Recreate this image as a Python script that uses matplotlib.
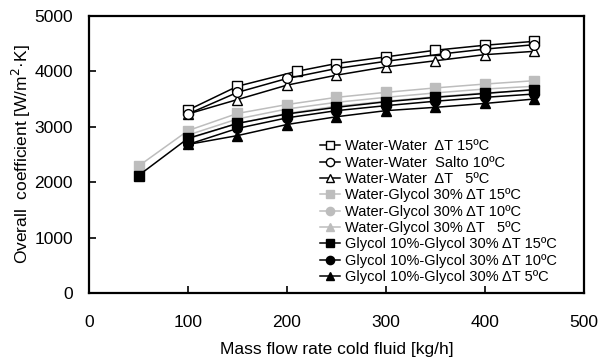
import matplotlib
matplotlib.use("Agg")
import matplotlib.pyplot as plt

plt.rcParams["font.family"] = ["Liberation Sans", "DejaVu Sans"]

# water-water series
ww_x15 = [100, 150, 210, 250, 300, 350, 400, 450]
ww_y15 = [3300, 3730, 4000, 4140, 4260, 4380, 4470, 4540]
ww_x10 = [100, 150, 200, 250, 300, 360, 400, 450]
ww_y10 = [3230, 3620, 3870, 4050, 4180, 4320, 4400, 4480]
ww_x5 = [100, 150, 200, 250, 300, 350, 400, 450]
ww_y5 = [3230, 3490, 3750, 3930, 4080, 4190, 4300, 4360]

# water-glycol series
wg_x15 = [50, 100, 150, 200, 250, 300, 350, 400, 450]
wg_y15 = [2290, 2930, 3240, 3400, 3530, 3620, 3700, 3770, 3830]
wg_x = [100, 150, 200, 250, 300, 350, 400, 450]
wg_y10 = [2850, 3140, 3320, 3440, 3530, 3610, 3680, 3730]
wg_y5 = [2780, 3060, 3240, 3370, 3460, 3540, 3610, 3660]

# glycol-glycol series
gg_x15 = [50, 100, 150, 200, 250, 300, 350, 400, 450]
gg_y15 = [2120, 2790, 3060, 3230, 3350, 3450, 3530, 3600, 3670]
gg_x = [100, 150, 200, 250, 300, 350, 400, 450]
gg_y10 = [2680, 2970, 3160, 3290, 3380, 3460, 3530, 3590]
gg_y5 = [2680, 2840, 3040, 3180, 3290, 3350, 3420, 3500]

labels = [
    "Water-Water  ΔT 15ºC",
    "Water-Water  Salto 10ºC",
    "Water-Water  ΔT   5ºC",
    "Water-Glycol 30% ΔT 15ºC",
    "Water-Glycol 30% ΔT 10ºC",
    "Water-Glycol 30% ΔT   5ºC",
    "Glycol 10%-Glycol 30% ΔT 15ºC",
    "Glycol 10%-Glycol 30% ΔT 10ºC",
    "Glycol 10%-Glycol 30% ΔT 5ºC",
]

fig = plt.figure(figsize=(6.14, 3.6), dpi=100)
ax = fig.add_axes([0.145, 0.186, 0.806, 0.770])

gray = "#bdbdbd"
ms = 7

# open markers
ax.plot(ww_x15, ww_y15, "-s", color="black", mfc="white", mec="black", ms=ms, lw=1.1, label=labels[0], zorder=5)
ax.plot(ww_x10, ww_y10, "-o", color="black", mfc="white", mec="black", ms=ms, lw=1.1, label=labels[1], zorder=5)
ax.plot(ww_x5, ww_y5, "-^", color="black", mfc="white", mec="black", ms=ms, lw=1.1, label=labels[2], zorder=4.9)

# gray markers
ax.plot(wg_x15, wg_y15, "-s", color=gray, ms=ms, lw=1.1, label=labels[3], zorder=2)
ax.plot(wg_x, wg_y10, "-o", color=gray, ms=ms, lw=1.1, label=labels[4], zorder=2)
ax.plot(wg_x, wg_y5, "-^", color=gray, ms=ms, lw=1.1, label=labels[5], zorder=2)

# black markers
ax.plot(gg_x15, gg_y15, "-s", color="black", ms=ms, lw=1.1, label=labels[6], zorder=3)
ax.plot(gg_x, gg_y10, "-o", color="black", ms=ms, lw=1.1, label=labels[7], zorder=3)
ax.plot(gg_x, gg_y5, "-^", color="black", ms=ms, lw=1.1, label=labels[8], zorder=2.9)

ax.set_xlim(0, 500)
ax.set_ylim(0, 5000)
ax.set_xticks([0, 100, 200, 300, 400, 500])
ax.set_yticks([0, 1000, 2000, 3000, 4000, 5000])
ax.tick_params(direction="in", length=5, width=1.2, labelsize=12.5)
ax.tick_params(axis="x", pad=15.5)
ax.tick_params(axis="y", pad=11.5)
for s in ax.spines.values():
    s.set_linewidth(1.6)

ax.set_xlabel("Mass flow rate cold fluid [kg/h]", fontsize=12.5, labelpad=9)
ax.set_ylabel("Overall  coefficient [W/m$^2$·K]", fontsize=12.5, labelpad=1)

leg = ax.legend(loc="upper left", bbox_to_anchor=(0.455, 0.575), frameon=False,
                fontsize=10.5, handlelength=1.4, handletextpad=0.3,
                labelspacing=0.16, borderaxespad=0, markerscale=0.85)

fig.savefig("out.png", dpi=100)
